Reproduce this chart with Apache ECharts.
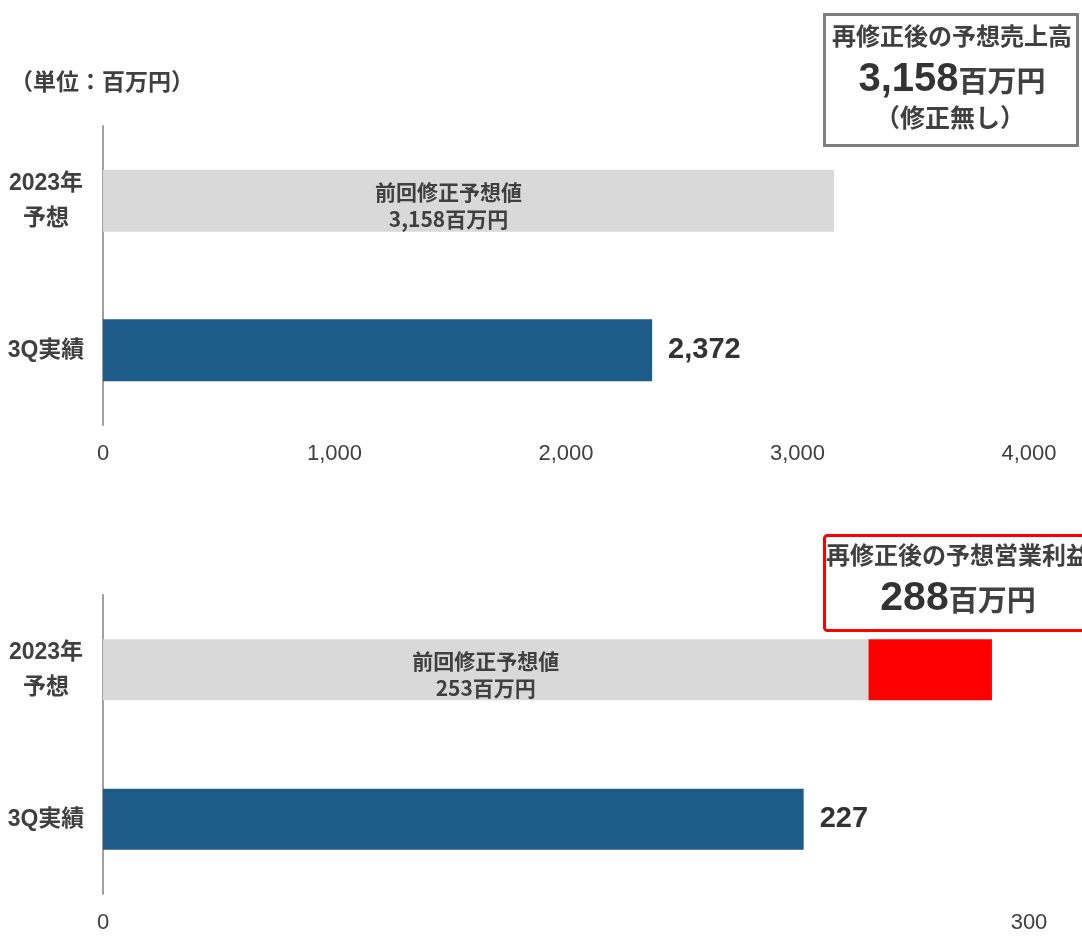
<!DOCTYPE html>
<html>
<head>
<meta charset="utf-8">
<script src="https://cdn.jsdelivr.net/npm/echarts@6/dist/echarts.min.js"></script>
<style>
  html, body { margin: 0; padding: 0; background: #fff; }
  #chart { width: 1082px; height: 938px; }
</style>
</head>
<body>
<div id="chart"></div>
<script>
  'use strict'

  // categories, bottom to top
  var categories = ['3Q実績', '2023年\n予想'];

  // sales (百万円)
  var salesActual = [2372, null];
  var salesPrev = [null, 3158];
  var salesTicks = [0, 1000, 2000, 3000, 4000];

  // operating profit (百万円)
  var profitActual = [227, null];
  var profitPrev = [null, 248];      // grey bar as drawn
  var profitRevised = [null, 288];
  var profitTicks = [0, 300];

  var prevTexts = ['前回修正予想値\n3,158百万円', '前回修正予想値\n253百万円'];

  var FONT = '"Liberation Sans", "Noto Sans CJK JP", sans-serif';
  var CJK = '"Noto Sans CJK JP", sans-serif';
  var TXT = '#404040';

  var profitIncrease = profitRevised.map(function (v, i) {
    return v == null ? null : v - profitPrev[i];
  });

  function catAxis(gi) {
    return {
      type: 'category',
      gridIndex: gi,
      data: categories,
      axisLine: { show: true, lineStyle: { color: '#A0A0A0', width: 2 } },
      axisTick: { show: false },
      axisLabel: {
        margin: 57,
        align: 'center',
        fontFamily: FONT,
        fontSize: 23,
        fontWeight: 'bold',
        color: TXT,
        lineHeight: 35
      }
    };
  }

  function valAxis(gi, ticks) {
    return {
      type: 'value',
      gridIndex: gi,
      min: ticks[0],
      max: ticks[ticks.length - 1],
      interval: ticks[1] - ticks[0],
      axisLine: { show: false },
      axisTick: { show: false },
      splitLine: { show: false },
      axisLabel: {
        margin: 18,
        fontFamily: FONT,
        fontSize: 22,
        color: TXT,
        formatter: function (v) { return v.toLocaleString('en-US'); }
      }
    };
  }

  var prevLabel = function (txt, dx) {
    return {
      show: true,
      position: 'inside',
      offset: [dx, 5],
      formatter: txt,
      fontFamily: CJK,
      fontSize: 21,
      fontWeight: 'bold',
      color: TXT,
      lineHeight: 27
    };
  };

  var valueLabel = {
    show: true,
    position: 'right',
    distance: 16,
    fontFamily: FONT,
    fontSize: 29,
    fontWeight: 'bold',
    color: '#333',
    formatter: function (p) { return p.value.toLocaleString('en-US'); }
  };

  var chart = echarts.init(document.getElementById('chart'));
  var option = {
    backgroundColor: '#fff',
    animation: false,
    grid: [
      { left: 103, right: 53, top: 126, height: 299 },
      { left: 103, right: 53, top: 595, height: 299 }
    ],
    yAxis: [catAxis(0), catAxis(1)],
    xAxis: [valAxis(0, salesTicks), valAxis(1, profitTicks)],
    series: [
      {
        type: 'bar', xAxisIndex: 0, yAxisIndex: 0, stack: 's', barWidth: 62,
        data: salesPrev, itemStyle: { color: '#D9D9D9' },
        label: prevLabel(prevTexts[0], -20)
      },
      {
        type: 'bar', xAxisIndex: 0, yAxisIndex: 0, stack: 's', barWidth: 62,
        data: salesActual, itemStyle: { color: '#1D5B89' },
        label: valueLabel
      },
      {
        type: 'bar', xAxisIndex: 1, yAxisIndex: 1, stack: 'p', barWidth: 61,
        data: profitPrev, itemStyle: { color: '#D9D9D9' },
        label: prevLabel(prevTexts[1], 0)
      },
      {
        type: 'bar', xAxisIndex: 1, yAxisIndex: 1, stack: 'p', barWidth: 61,
        data: profitIncrease, itemStyle: { color: '#FF0000' }
      },
      {
        type: 'bar', xAxisIndex: 1, yAxisIndex: 1, stack: 'p', barWidth: 61,
        data: profitActual, itemStyle: { color: '#1D5B89' },
        label: valueLabel
      }
    ],
    graphic: [
      {
        type: 'text', x: 10, y: 81,
        style: { text: '（単位：百万円）', fill: TXT, font: 'bold 23px ' + CJK, verticalAlign: 'middle' }
      },
      // sales callout
      {
        type: 'rect',
        shape: { x: 824.5, y: 14.5, width: 253, height: 131 },
        style: { fill: '#fff', stroke: '#7F7F7F', lineWidth: 3 }
      },
      {
        type: 'text', x: 952, y: 38,
        style: { text: '再修正後の予想売上高', fill: TXT, font: 'bold 24px ' + FONT, align: 'center', verticalAlign: 'middle' }
      },
      {
        type: 'text', x: 952, y: 80,
        style: {
          text: '{a|3,158}{b|百万円}', align: 'center', verticalAlign: 'middle',
          rich: {
            a: { fontFamily: FONT, fontSize: 40, fontWeight: 'bold', fill: '#333', color: '#333' },
            b: { fontFamily: FONT, fontSize: 29, fontWeight: 'bold', fill: TXT, color: TXT, padding: [8, 0, 0, 0] }
          }
        }
      },
      {
        type: 'text', x: 950, y: 120,
        style: { text: '（修正無し）', fill: TXT, font: 'bold 25px ' + FONT, align: 'center', verticalAlign: 'middle' }
      },
      // profit callout
      {
        type: 'rect',
        shape: { x: 824.5, y: 535.5, width: 275, height: 95, r: 3 },
        style: { fill: '#fff', stroke: '#FF0000', lineWidth: 3 }
      },
      {
        type: 'text', x: 958, y: 557,
        style: { text: '再修正後の予想営業利益', fill: TXT, font: 'bold 24px ' + FONT, align: 'center', verticalAlign: 'middle' }
      },
      {
        type: 'text', x: 958, y: 599,
        style: {
          text: '{a|288}{b|百万円}', align: 'center', verticalAlign: 'middle',
          rich: {
            a: { fontFamily: FONT, fontSize: 41, fontWeight: 'bold', fill: '#333', color: '#333' },
            b: { fontFamily: FONT, fontSize: 29, fontWeight: 'bold', fill: TXT, color: TXT, padding: [8, 0, 0, 0] }
          }
        }
      }
    ]
  };
  chart.setOption(option);
</script>
</body>
</html>
